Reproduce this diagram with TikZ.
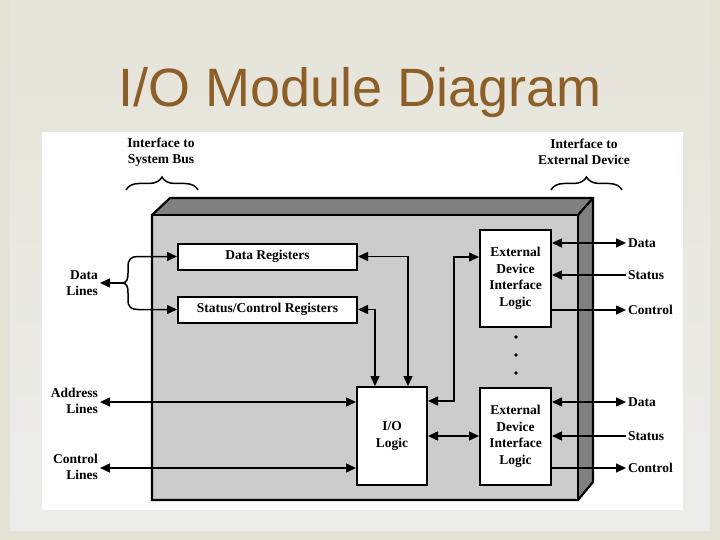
\documentclass[tikz,border=0pt]{standalone}
\usepackage{fontspec}
\setmainfont{Liberation Serif}
\newfontfamily\titlefont{Liberation Sans}
\usetikzlibrary{arrows.meta,decorations.pathreplacing,calc}
\definecolor{slidebg}{RGB}{228,226,212}
\definecolor{slidein}{RGB}{236,236,234}
\definecolor{titlebrown}{RGB}{140,94,40}
\definecolor{frontgray}{RGB}{204,204,204}
\definecolor{sidegray}{RGB}{128,128,128}
\begin{document}
\begin{tikzpicture}[x=1pt,y=-1pt,
  box/.style={draw=black,line width=2pt,fill=white,inner sep=0pt,
    font=\fontsize{13.5}{16.5}\selectfont\bfseries,align=center},
  lbl/.style={inner sep=2pt,font=\fontsize{13.5}{16.5}\selectfont\bfseries},
  conn/.style={line width=1.5pt,-{Triangle[length=10pt,width=9pt]}},
  dbl/.style={line width=1.5pt,{Triangle[length=10pt,width=9pt]}-{Triangle[length=10pt,width=9pt]}},
  bracestyle/.style={line width=1.5pt,decorate,decoration={brace,amplitude=13pt}}]
\useasboundingbox (0,0) rectangle (720,540);
% slide background
\fill[slidebg] (0,0) rectangle (720,540);
\shade[top color=slidebg!80!slidein,bottom color=slidein] (10,0) rectangle (710,530);
\fill[white] (42,132) rectangle (683,510);
% title
\node[anchor=base,text=titlebrown,inner sep=0pt,font=\titlefont\fontsize{54}{60}\selectfont] (title) at (360,107) {I/O Module Diagram};
% module body
\fill[sidegray] (152,215) -- (170,198) -- (593,198) -- (578,215) -- cycle;
\fill[sidegray] (578,215) -- (593,198) -- (593,482) -- (578,500) -- cycle;
\fill[frontgray] (152,215) rectangle (578,500);
\draw[line width=2.2pt,line join=miter] (152,500) -- (152,215) -- (170,198) -- (593,198) -- (593,482) -- (578,500) -- cycle;
\draw[line width=2.2pt] (152,215) -- (578,215) -- (578,500);
\draw[line width=2.2pt] (578,215) -- (593,198);
% inner boxes
\node[box,minimum width=179pt,minimum height=26pt] (dreg) at (267.5,256.5) {Data Registers};
\node[box,minimum width=179pt,minimum height=26pt] (sreg) at (267.5,309.5) {Status/Control Registers};
\node[box,minimum width=70pt,minimum height=98pt] (iol) at (392,436) {I/O\\Logic};
\node[box,minimum width=71pt,minimum height=97pt] (ext1) at (515.5,278.5) {External\\Device\\Interface\\Logic};
\node[box,minimum width=71pt,minimum height=97pt] (ext2) at (515.5,436.5) {External\\Device\\Interface\\Logic};
% dots
\fill (516,337) circle (1.8pt) (516,355) circle (1.8pt) (516,373) circle (1.8pt);
% internal connectors
\draw[dbl] (dreg.east) -| ($(iol.north)+(16,0)$);
\draw[dbl] (sreg.east) -| ($(iol.north)+(-17,0)$);
\draw[dbl] ($(iol.north east)+(0,15)$) -- ++(26,0) |- ($(ext1.west)+(0,-21.5)$);
\draw[dbl] (iol.east) -- (iol.east -| ext2.west);
% left side
\node[lbl,anchor=east,align=right] (dl) at (100,283) {Data\\Lines};
\node[lbl,anchor=east,align=right] (al) at (100,401) {Address\\Lines};
\node[lbl,anchor=east,align=right] (cl) at (100,467) {Control\\Lines};
\coordinate (dj) at (122,283);
\coordinate (a0) at ($(al.east)+(0,1)$);
\coordinate (c0) at ($(cl.east)+(0,1)$);
\draw[conn] (dj) -- (dl.east);
\draw[conn] (dj) .. controls (127,283) and (128,279) .. (128,273) -- (128,267) .. controls (128,259) and (131,256.5) .. (138,256.5) -- (dreg.west);
\draw[conn] (dj) .. controls (127,283) and (128,287) .. (128,293) -- (128,300) .. controls (128,307) and (131,309.5) .. (138,309.5) -- (sreg.west);
\draw[dbl] (a0) -- (a0 -| iol.west);
\draw[dbl] (c0) -- (c0 -| iol.west);
% right side labels
\node[lbl,anchor=west] (d1) at (626,243) {Data};
\node[lbl,anchor=west] (s1) at (626,275) {Status};
\node[lbl,anchor=west] (c1) at (626,310) {Control};
\node[lbl,anchor=west] (d2) at (626,402) {Data};
\node[lbl,anchor=west] (s2) at (626,436) {Status};
\node[lbl,anchor=west] (c2) at (626,468) {Control};
\draw[dbl] (d1.west -| ext1.east) -- (d1.west);
\draw[conn] (s1.west) -- (s1.west -| ext1.east);
\draw[conn] (c1.west -| ext1.east) -- (c1.west);
\draw[dbl] (d2.west -| ext2.east) -- (d2.west);
\draw[conn] (s2.west) -- (s2.west -| ext2.east);
\draw[conn] (c2.west -| ext2.east) -- (c2.west);
% braces and headings
\node[lbl,align=center] (sysbus) at (161,152) {Interface to\\System Bus};
\node[lbl,align=center] (extdev) at (584,152) {Interface to\\External Device};
\draw[bracestyle] (126,190) -- (198,190);
\draw[bracestyle] (551,190) -- (622,190);
\end{tikzpicture}
\end{document}
